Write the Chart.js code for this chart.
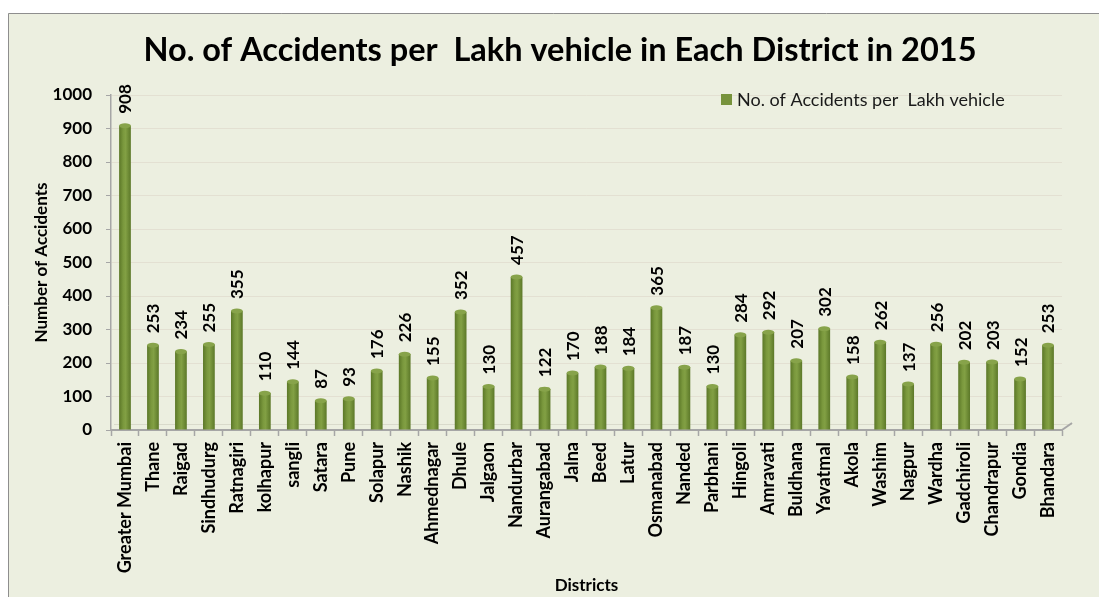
<!DOCTYPE html>
<html>
<head>
<meta charset="utf-8">
<script src="https://cdn.jsdelivr.net/npm/chart.js@4.4.1/dist/chart.umd.min.js"></script>
<style>
  html,body{margin:0;padding:0;background:#fff;}
  #wrap{position:absolute;left:0;top:0;width:1099px;height:597px;}
</style>
</head>
<body>
<div id="wrap"><canvas id="c" width="1099" height="597"></canvas></div>
<script>
const districts = ["Greater Mumbai","Thane","Raigad","Sindhudurg","Ratnagiri","kolhapur","sangli","Satara","Pune","Solapur","Nashik","Ahmednagar","Dhule","Jalgaon","Nandurbar","Aurangabad","Jalna","Beed","Latur","Osmanabad","Nanded","Parbhani","Hingoli","Amravati","Buldhana","Yavatmal","Akola","Washim","Nagpur","Wardha","Gadchiroli","Chandrapur","Gondia","Bhandara"];
const accidents = [908,253,234,255,355,110,144,87,93,176,226,155,352,130,457,122,170,188,184,365,187,130,284,292,207,302,158,262,137,256,202,203,152,253];
const yTicks = [0,100,200,300,400,500,600,700,800,900,1000];
const seriesName = "No. of Accidents per  Lakh vehicle";
const chartTitle = "No. of Accidents per  Lakh vehicle in Each District in 2015";
const yTitle = "Number of Accidents";
const xTitle = "Districts";

const FONT = "Lato, 'Open Sans', sans-serif";
const BG = "#ECEFE0";

const bgPlugin = {
  id: 'bg',
  beforeDraw(chart) {
    const ctx = chart.ctx;
    ctx.save();
    ctx.fillStyle = '#ffffff';
    ctx.fillRect(0, 0, chart.width, chart.height);
    ctx.fillStyle = BG;
    ctx.fillRect(8, 13, chart.width - 8, chart.height - 13);
    ctx.strokeStyle = '#8E8E8E';
    ctx.lineWidth = 1;
    ctx.beginPath();
    ctx.moveTo(8.5, chart.height);
    ctx.lineTo(8.5, 13.5);
    ctx.lineTo(chart.width, 13.5);
    ctx.stroke();
    ctx.restore();
  }
};

const titlePlugin = {
  id: 'customTitle',
  afterDraw(chart) {
    const ctx = chart.ctx;
    ctx.save();
    ctx.fillStyle = '#000';
    ctx.font = "bold 32.5px " + FONT;
    ctx.textAlign = 'center';
    ctx.textBaseline = 'middle';
    ctx.fillText(chartTitle, 560, 51);
    ctx.restore();
  }
};

const barDecor = {
  id: 'barDecor',
  afterDatasetsDraw(chart) {
    const ctx = chart.ctx;
    const meta = chart.getDatasetMeta(0);
    ctx.save();
    meta.data.forEach((el, i) => {
      const w = el.width;
      ctx.fillStyle = '#87A34A';
      ctx.beginPath();
      ctx.ellipse(el.x, el.y, w / 2, 2.5, 0, 0, Math.PI * 2);
      ctx.fill();
      ctx.save();
      ctx.translate(el.x + 1, el.y - 12);
      ctx.rotate(-Math.PI / 2);
      ctx.fillStyle = '#000';
      ctx.font = "bold 17px " + FONT;
      ctx.textAlign = 'left';
      ctx.textBaseline = 'middle';
      ctx.fillText(String(chart.data.datasets[0].data[i]), 0, 0);
      ctx.restore();
    });
    ctx.restore();
  }
};

const legendPlugin = {
  id: 'customLegend',
  afterDraw(chart) {
    const ctx = chart.ctx;
    ctx.save();
    ctx.fillStyle = '#77933C';
    ctx.fillRect(721, 94, 11, 11);
    ctx.fillStyle = '#1a1a1a';
    ctx.font = "18px " + FONT;
    ctx.textBaseline = 'middle';
    ctx.textAlign = 'left';
    ctx.fillText(chart.data.datasets[0].label, 737, 100);
    ctx.restore();
  }
};

const floorPlugin = {
  id: 'floor',
  beforeDatasetsDraw(chart) {
    const ctx = chart.ctx;
    const a = chart.chartArea;
    ctx.save();
    ctx.strokeStyle = '#D9DACB';
    ctx.lineWidth = 1;
    ctx.beginPath();
    ctx.moveTo(a.left + 3, a.bottom - 5.5);
    ctx.lineTo(a.right + 10, a.bottom - 5.5);
    ctx.stroke();
    ctx.strokeStyle = '#A6A6A6';
    ctx.lineWidth = 2;
    ctx.beginPath();
    ctx.moveTo(a.right, a.bottom);
    ctx.lineTo(a.right + 10, a.bottom - 7);
    ctx.stroke();
    ctx.restore();
  }
};

function barFill(context) {
  const chart = context.chart;
  const x = chart.scales.x;
  if (!x || context.dataIndex === undefined) return '#77933C';
  const cx = x.getPixelForValue(context.dataIndex);
  if (!isFinite(cx)) return '#77933C';
  const half = 6;
  const g = chart.ctx.createLinearGradient(cx - half, 0, cx + half, 0);
  g.addColorStop(0, '#5A7627');
  g.addColorStop(0.35, '#7A983D');
  g.addColorStop(0.55, '#82A044');
  g.addColorStop(1, '#5B7728');
  return g;
}

new Chart(document.getElementById('c'), {
  type: 'bar',
  data: {
    labels: districts,
    datasets: [{
      label: seriesName,
      data: accidents,
      backgroundColor: barFill,
      borderWidth: 0,
      barPercentage: 0.42,
      categoryPercentage: 1.0
    }]
  },
  options: {
    responsive: false,
    animation: false,
    layout: { padding: { left: 0, right: 37, top: 95, bottom: 0 } },
    plugins: {
      legend: { display: false },
      tooltip: { enabled: false },
      title: { display: false }
    },
    scales: {
      x: {
        grid: {
          drawOnChartArea: false,
          drawTicks: true,
          tickLength: 6,
          tickColor: '#A6A6A6',
          tickWidth: 1.5,
          offset: true
        },
        border: { color: '#A6A6A6', width: 2 },
        ticks: {
          color: '#000',
          font: { family: FONT, size: 18, weight: 'bold' },
          maxRotation: 90,
          minRotation: 90,
          padding: 6,
          autoSkip: false
        },
        title: {
          display: true,
          text: xTitle,
          color: '#000',
          font: { family: FONT, size: 17, weight: 'bold', lineHeight: 1.2 },
          padding: { top: 0, bottom: 1 }
        },
        afterFit(s) { s.height = 167; }
      },
      y: {
        min: 0,
        max: 1000,
        afterBuildTicks(s) { s.ticks = yTicks.map(v => ({ value: v })); },
        ticks: {
          color: '#000',
          font: { family: FONT, size: 17, weight: 'bold' },
          padding: 14,
          callback: (v) => String(v)
        },
        grid: {
          color: '#E3E0D2',
          lineWidth: 1,
          tickLength: 5,
          tickColor: '#A6A6A6'
        },
        border: { color: '#A6A6A6', width: 1.5 },
        title: {
          display: true,
          text: yTitle,
          color: '#000',
          font: { family: FONT, size: 17, weight: 'bold', lineHeight: 1.2 },
          padding: { top: 31, bottom: 0 }
        },
        afterFit(s) { s.width = 111; }
      }
    }
  },
  plugins: [bgPlugin, floorPlugin, barDecor, legendPlugin, titlePlugin]
});
</script>
</body>
</html>
